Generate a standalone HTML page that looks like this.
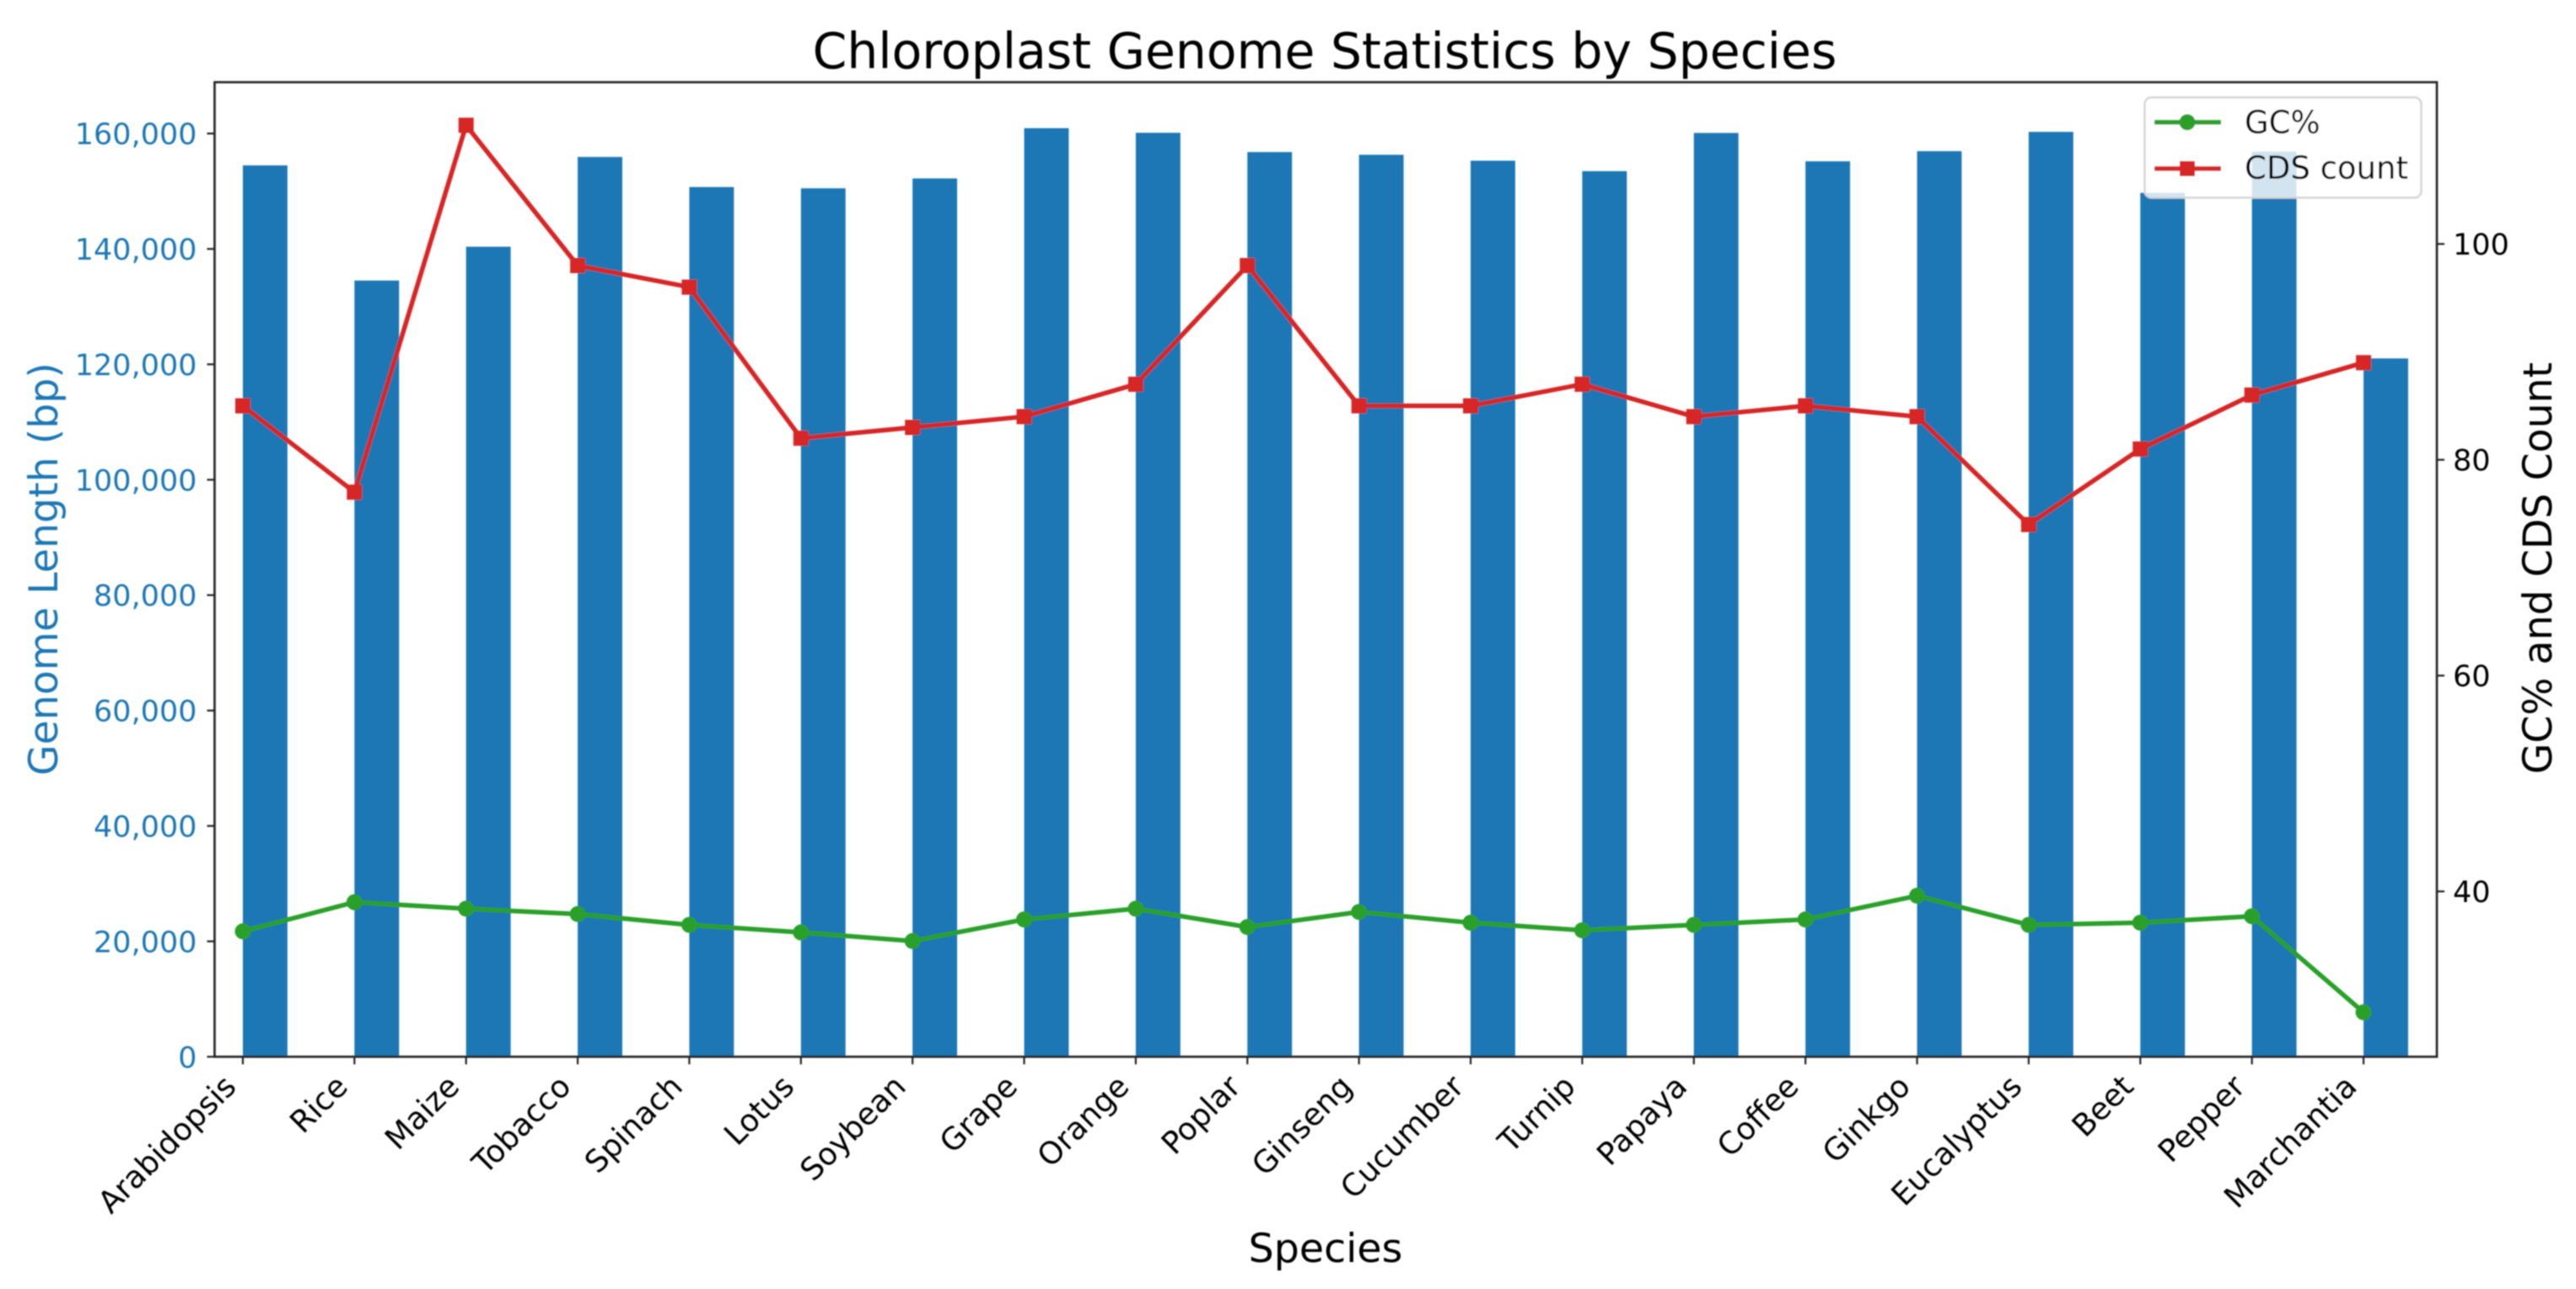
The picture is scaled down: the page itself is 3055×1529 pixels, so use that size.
<!DOCTYPE html>
<html lang="en">
<head>
<meta charset="utf-8">
<title>Chloroplast Genome Statistics by Species</title>
<style>
  html, body { margin: 0; padding: 0; background: #ffffff; }
  svg { display: block; }
  text { font-family: "DejaVu Sans", "Liberation Sans", sans-serif; }
</style>
</head>
<body>
<svg id="chart" xmlns="http://www.w3.org/2000/svg" width="3055" height="1529" viewBox="0 0 3055 1529">
  <defs>
    <filter id="soft" x="-2%" y="-2%" width="104%" height="104%"><feGaussianBlur stdDeviation="0.7"/></filter>
  </defs>
  <rect x="0" y="0" width="3055" height="1529" fill="#ffffff"/>
  <g id="root" filter="url(#soft)">
    <g id="bars"></g>
    <g id="gcLine"></g>
    <g id="cdsLine"></g>
    <g id="axes"></g>
    <g id="legend">
      <rect x="2543.5" y="115.5" width="328" height="119" rx="8" fill="#ffffff" fill-opacity="0.8" stroke="#d6d6d6" stroke-width="2.5"/>
      <line x1="2555" y1="145" x2="2634" y2="145" stroke="#2ca02c" stroke-width="5.5"/>
      <circle cx="2594" cy="145" r="9.5" fill="#2ca02c"/>
      <text x="2662" y="158" font-size="37" fill="#000">GC%</text>
      <line x1="2555" y1="200" x2="2634" y2="200" stroke="#d62728" stroke-width="5.5"/>
      <rect x="2585" y="191" width="18" height="18" fill="#d62728"/>
      <text x="2662" y="212" font-size="37" fill="#000">CDS count</text>
    </g>
    <text x="1571" y="81" text-anchor="middle" font-size="58.4" fill="#000">Chloroplast Genome Statistics by Species</text>
    <text x="1572" y="1497" text-anchor="middle" font-size="47.5" fill="#000">Species</text>
    <text transform="translate(68 675) rotate(-90)" text-anchor="middle" font-size="47.3" fill="#1f77b4">Genome Length (bp)</text>
    <text transform="translate(3026 674) rotate(-90)" text-anchor="middle" font-size="47.3" fill="#000">GC% and CDS Count</text>
  </g>
</svg>
<script>
const categories = ["Arabidopsis","Rice","Maize","Tobacco","Spinach","Lotus","Soybean","Grape","Orange","Poplar","Ginseng","Cucumber","Turnip","Papaya","Coffee","Ginkgo","Eucalyptus","Beet","Pepper","Marchantia"];
const genomeLength = [154478,134525,140384,155943,150725,150509,152218,160928,160129,156789,156318,155293,153482,160100,155189,156945,160286,149722,156878,121024];
const gcPercent = [36.3,39.0,38.4,37.9,36.9,36.2,35.4,37.4,38.4,36.7,38.1,37.1,36.4,36.9,37.4,39.6,36.9,37.1,37.7,28.8];
const cdsCount = [85,77,111,98,96,82,83,84,87,98,85,85,87,84,85,84,74,81,86,89];
const leftTicks = [0,20000,40000,60000,80000,100000,120000,140000,160000];
const rightTicks = [40,60,80,100];

const NS = "http://www.w3.org/2000/svg";
const plot = { left: 254.5, right: 2890, top: 97.5, bottom: 1253.5 };
function xAxis(i) { return 288 + i * 132.37; }
function yLeft(v) { return 1253.5 - v * 0.0068444; }
function yRight(v) { return 1057.4 - (v - 40) * 12.8; }
function make(tag, attrs, parent) {
  const el = document.createElementNS(NS, tag);
  for (const k in attrs) el.setAttribute(k, attrs[k]);
  parent.appendChild(el);
  return el;
}
const barsG = document.getElementById("bars");
const gcG = document.getElementById("gcLine");
const cdsG = document.getElementById("cdsLine");
const axesG = document.getElementById("axes");

categories.forEach(function (name, i) {
  const bar = make("rect", { x: xAxis(i), y: yLeft(genomeLength[i]), width: 52.9, height: yLeft(0) - yLeft(genomeLength[i]), fill: "#1f77b4" }, barsG);
  
  
});

const gcPath = make("polyline", { points: gcPercent.map(function (v, i) { return xAxis(i) + "," + yRight(v); }).join(" "), fill: "none", stroke: "#2ca02c", "stroke-width": 5.5, "stroke-linejoin": "round" }, gcG);


gcPercent.forEach(function (v, i) {
  const pt = make("circle", { cx: xAxis(i), cy: yRight(v), r: 9.5, fill: "#2ca02c" }, gcG);
  
  
});

const cdsPath = make("polyline", { points: cdsCount.map(function (v, i) { return xAxis(i) + "," + yRight(v); }).join(" "), fill: "none", stroke: "#d62728", "stroke-width": 5.5, "stroke-linejoin": "round" }, cdsG);


cdsCount.forEach(function (v, i) {
  const pt = make("rect", { x: xAxis(i) - 9, y: yRight(v) - 9, width: 18, height: 18, fill: "#d62728" }, cdsG);
  
  
});

const frame = make("rect", { x: plot.left, y: plot.top, width: plot.right - plot.left, height: plot.bottom - plot.top, fill: "none", stroke: "#222222", "stroke-width": 2.6 }, axesG);



leftTicks.forEach(function (v) {
  const y = yLeft(v);
  const tick = make("line", { x1: plot.left - 9, x2: plot.left, y1: y, y2: y, stroke: "#222222", "stroke-width": 2.2 }, axesG);
  
  
  const label = make("text", { x: 233.5, y: y + 12.8, "text-anchor": "end", "font-size": 35, fill: "#1f77b4" }, axesG);
  
  
  label.textContent = v.toLocaleString("en-US");
});

rightTicks.forEach(function (v) {
  const y = yRight(v);
  const tick = make("line", { x1: plot.right, x2: plot.right + 9, y1: y, y2: y, stroke: "#222222", "stroke-width": 2.2 }, axesG);
  
  
  const label = make("text", { x: 2909, y: y + 12.8, "font-size": 35, fill: "#000" }, axesG);
  
  
  label.textContent = String(v);
});

categories.forEach(function (name, i) {
  const x = xAxis(i);
  const tick = make("line", { x1: x, x2: x, y1: plot.bottom, y2: plot.bottom + 9, stroke: "#222222", "stroke-width": 2.2 }, axesG);
  
  
  const label = make("text", { transform: "translate(" + (x - 6) + " 1291) rotate(-45)", "text-anchor": "end", "font-size": 36.5, fill: "#000" }, axesG);
  
  
  label.textContent = name;
});
</script>
</body>
</html>
